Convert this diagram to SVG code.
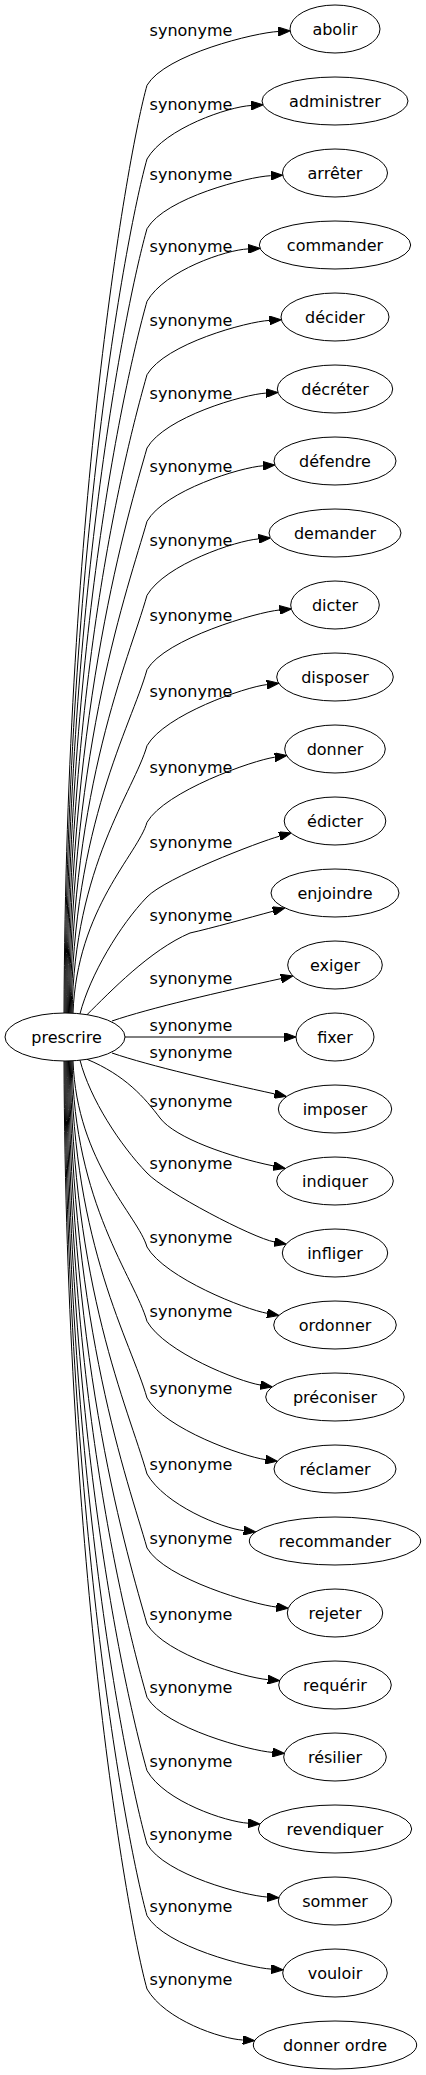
<svg xmlns="http://www.w3.org/2000/svg" width="426" height="2075" viewBox="0 0 426 2075">
<style>
.n ellipse{fill:none;stroke:#000;stroke-width:1}
.n text,.lb{font-family:"DejaVu Sans","Liberation Sans",sans-serif;font-size:16px;fill:#000;text-anchor:middle}
#edges path{fill:none;stroke:#000;stroke-width:1;marker-end:url(#ah)}
</style>
<defs>
<marker id="ah" viewBox="0 0 12 9" refX="0" refY="4.5" markerWidth="12" markerHeight="9" markerUnits="userSpaceOnUse" orient="auto"><path d="M0,0L12,4.5L0,9z" fill="#000" stroke="#000" stroke-width="1"/></marker>
</defs>
<rect width="426" height="2075" fill="#fff"/>
<g id="edges">
<path d="M64,1013 C66,502.8 128,152.3 147,85.3 C165,54.3 256.2,32.5 278.2,31.5"/>
<path d="M64.9,1013 C66.9,543.3 128,226 147,159 C165,128 229,106.7 251,105.5"/>
<path d="M65.8,1013 C67.8,581.6 128,295.7 147,228.7 C165,197.7 248.8,176.6 270.7,175.7"/>
<path d="M66.7,1013 C68.7,621.6 128,368.3 147,301.3 C165,270.3 226.1,249.9 248.1,248.9"/>
<path d="M67.6,1013 C69.6,661.9 128,441.7 147,374.7 C165,343.7 247.4,321.6 269.4,320.4"/>
<path d="M68.5,1013 C70.5,702.3 128,515 147,448 C165,417 243.9,394.4 265.9,393.1"/>
<path d="M69.4,1013 C71.4,742.6 128,588.3 147,521.3 C165,490.3 240.9,467.3 262.9,465.8"/>
<path d="M70.3,1013 C72.3,783.3 128,662.3 147,595.3 C165,564.3 236.5,540.6 258.5,538.9"/>
<path d="M71.2,1013 C73.2,824.2 130.7,727.2 147,669.7 C165,638.7 257.5,612 279.4,610"/>
<path d="M72.1,1013 C74.1,866 134.3,790.5 147,745.7 C165,714.7 245,687.1 266.8,684.6"/>
<path d="M73,1013 C77,908.1 137.9,854.3 147,822.3 C165,791.3 253,760.2 274.8,757.2"/>
<path d="M80,1013.8 C90,975 120,925 147,897 C165,878 258.3,842.1 279.5,836.2"/>
<path d="M87,1014.7 C110,992 150,950 190,933 C212,928 248,918 273.1,911.2"/>
<path d="M112,1021 C150,1008 220,992 281,978.6"/>
<path d="M125,1037 L284,1037"/>
<path d="M112,1053 C150,1066 220,1082 274.6,1093.9"/>
<path d="M87,1059.3 C125,1075 145,1098 160,1118 C175,1138 230,1157 273.3,1165.9"/>
<path d="M80,1060.2 C90,1099 120,1145 147,1173 C165,1192 252.7,1237.9 274.3,1241.9"/>
<path d="M73,1061 C77,1163.3 138.2,1215.8 147,1247 C165,1278 245.4,1309.5 267.1,1313.3"/>
<path d="M72.1,1061 C74.1,1204.2 134.6,1277.7 147,1321.3 C165,1352.3 238.6,1381.5 260.3,1385"/>
<path d="M71.2,1061 C73.2,1246.4 131,1341.6 147,1398 C165,1429 243.6,1456.6 265.4,1459.6"/>
<path d="M70.3,1061 C72.3,1288.2 128,1407 147,1474 C165,1505 221.8,1528.2 243.7,1530.6"/>
<path d="M69.4,1061 C71.4,1328.9 128,1481 147,1548 C165,1579 254.4,1604.7 276.3,1607"/>
<path d="M68.5,1061 C70.5,1370.7 128,1557 147,1624 C165,1655 245.8,1677.8 267.7,1679.6"/>
<path d="M67.6,1061 C69.6,1411 128,1630.3 147,1697.3 C165,1728.3 250.4,1750.7 272.4,1752.4"/>
<path d="M66.7,1061 C68.7,1451.3 128,1703.7 147,1770.7 C165,1801.7 226.1,1821.8 248,1823.2"/>
<path d="M65.8,1061 C67.8,1491.7 128,1777 147,1844 C165,1875 244.9,1895.6 266.9,1897"/>
<path d="M64.9,1061 C66.9,1531.1 128,1848.7 147,1915.7 C165,1946.7 249.2,1967.8 271.2,1969.1"/>
<path d="M64,1061 C66,1571.4 128,1922 147,1989 C165,2020 220.7,2038.8 242.7,2040"/>
</g>
<g id="labels">
<text class="lb" x="191" y="36.3">synonyme</text>
<text class="lb" x="191" y="110">synonyme</text>
<text class="lb" x="191" y="179.7">synonyme</text>
<text class="lb" x="191" y="252.3">synonyme</text>
<text class="lb" x="191" y="325.7">synonyme</text>
<text class="lb" x="191" y="399">synonyme</text>
<text class="lb" x="191" y="472.3">synonyme</text>
<text class="lb" x="191" y="546.3">synonyme</text>
<text class="lb" x="191" y="620.7">synonyme</text>
<text class="lb" x="191" y="696.7">synonyme</text>
<text class="lb" x="191" y="773.3">synonyme</text>
<text class="lb" x="191" y="848">synonyme</text>
<text class="lb" x="191" y="921.3">synonyme</text>
<text class="lb" x="191" y="984">synonyme</text>
<text class="lb" x="191" y="1031">synonyme</text>
<text class="lb" x="191" y="1058">synonyme</text>
<text class="lb" x="191" y="1106.5">synonyme</text>
<text class="lb" x="191" y="1169">synonyme</text>
<text class="lb" x="191" y="1243">synonyme</text>
<text class="lb" x="191" y="1317.3">synonyme</text>
<text class="lb" x="191" y="1394">synonyme</text>
<text class="lb" x="191" y="1470">synonyme</text>
<text class="lb" x="191" y="1544">synonyme</text>
<text class="lb" x="191" y="1620">synonyme</text>
<text class="lb" x="191" y="1693.3">synonyme</text>
<text class="lb" x="191" y="1766.7">synonyme</text>
<text class="lb" x="191" y="1840">synonyme</text>
<text class="lb" x="191" y="1911.7">synonyme</text>
<text class="lb" x="191" y="1985">synonyme</text>
</g>
<g id="prescrire" class="n"><ellipse cx="65" cy="1037" rx="60" ry="24"/><text x="66.5" y="1042.5">prescrire</text></g>
<g id="abolir" class="n"><ellipse cx="335" cy="29" rx="45" ry="24"/><text x="335" y="34.5">abolir</text></g>
<g id="administrer" class="n"><ellipse cx="335" cy="101" rx="73" ry="24"/><text x="335" y="106.5">administrer</text></g>
<g id="arreter" class="n"><ellipse cx="335" cy="173" rx="52.5" ry="24"/><text x="335" y="178.5">arrêter</text></g>
<g id="commander" class="n"><ellipse cx="335" cy="245" rx="75.7" ry="24"/><text x="335" y="250.5">commander</text></g>
<g id="decider" class="n"><ellipse cx="335" cy="317" rx="54" ry="24"/><text x="335" y="322.5">décider</text></g>
<g id="decreter" class="n"><ellipse cx="335" cy="389" rx="57.7" ry="24"/><text x="335" y="394.5">décréter</text></g>
<g id="defendre" class="n"><ellipse cx="335" cy="461" rx="61" ry="24"/><text x="335" y="466.5">défendre</text></g>
<g id="demander" class="n"><ellipse cx="335" cy="533" rx="66" ry="24"/><text x="335" y="538.5">demander</text></g>
<g id="dicter" class="n"><ellipse cx="335" cy="605" rx="44.3" ry="24"/><text x="335" y="610.5">dicter</text></g>
<g id="disposer" class="n"><ellipse cx="335" cy="677" rx="58.3" ry="24"/><text x="335" y="682.5">disposer</text></g>
<g id="donner" class="n"><ellipse cx="335" cy="749" rx="50.3" ry="24"/><text x="335" y="754.5">donner</text></g>
<g id="edicter" class="n"><ellipse cx="335" cy="821" rx="50.8" ry="24"/><text x="335" y="826.5">édicter</text></g>
<g id="enjoindre" class="n"><ellipse cx="335" cy="893" rx="64" ry="24"/><text x="335" y="898.5">enjoindre</text></g>
<g id="exiger" class="n"><ellipse cx="335" cy="965" rx="47.3" ry="24"/><text x="335" y="970.5">exiger</text></g>
<g id="fixer" class="n"><ellipse cx="335" cy="1037" rx="39" ry="24"/><text x="335" y="1042.5">fixer</text></g>
<g id="imposer" class="n"><ellipse cx="335" cy="1109" rx="56.7" ry="24"/><text x="335" y="1114.5">imposer</text></g>
<g id="indiquer" class="n"><ellipse cx="335" cy="1181" rx="58.3" ry="24"/><text x="335" y="1186.5">indiquer</text></g>
<g id="infliger" class="n"><ellipse cx="335" cy="1253" rx="52.7" ry="24"/><text x="335" y="1258.5">infliger</text></g>
<g id="ordonner" class="n"><ellipse cx="335" cy="1325" rx="61.3" ry="24"/><text x="335" y="1330.5">ordonner</text></g>
<g id="preconiser" class="n"><ellipse cx="335" cy="1397" rx="69.3" ry="24"/><text x="335" y="1402.5">préconiser</text></g>
<g id="reclamer" class="n"><ellipse cx="335" cy="1469" rx="61" ry="24"/><text x="335" y="1474.5">réclamer</text></g>
<g id="recommander" class="n"><ellipse cx="335" cy="1541" rx="85.7" ry="24"/><text x="335" y="1546.5">recommander</text></g>
<g id="rejeter" class="n"><ellipse cx="335" cy="1613" rx="47.7" ry="24"/><text x="335" y="1618.5">rejeter</text></g>
<g id="requerir" class="n"><ellipse cx="335" cy="1685" rx="56.3" ry="24"/><text x="335" y="1690.5">requérir</text></g>
<g id="resilier" class="n"><ellipse cx="335" cy="1757" rx="51.3" ry="24"/><text x="335" y="1762.5">résilier</text></g>
<g id="revendiquer" class="n"><ellipse cx="335" cy="1829" rx="76.7" ry="24"/><text x="335" y="1834.5">revendiquer</text></g>
<g id="sommer" class="n"><ellipse cx="335" cy="1901" rx="56.7" ry="24"/><text x="335" y="1906.5">sommer</text></g>
<g id="vouloir" class="n"><ellipse cx="335" cy="1973" rx="52.3" ry="24"/><text x="335" y="1978.5">vouloir</text></g>
<g id="donner_ordre" class="n"><ellipse cx="335" cy="2045" rx="81.7" ry="24"/><text x="335" y="2050.5">donner ordre</text></g>
</svg>
